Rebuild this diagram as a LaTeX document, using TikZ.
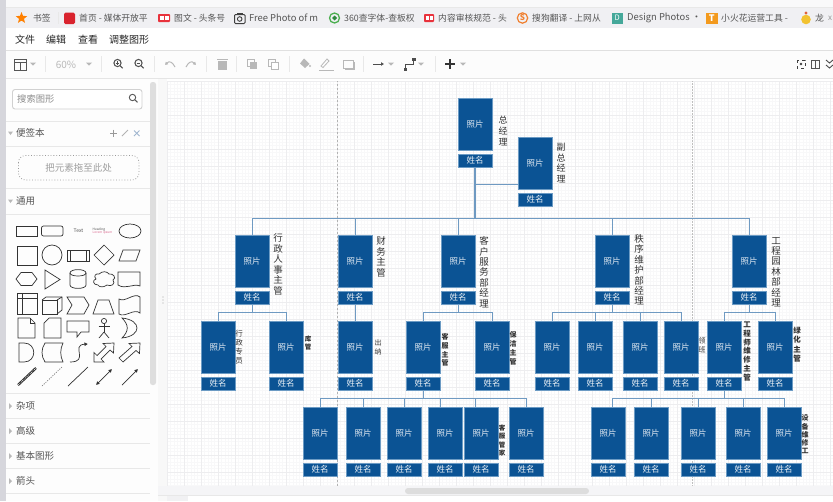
\documentclass[tikz,border=0pt]{standalone}
\usepackage{fontspec}
\setmainfont{Noto Sans CJK SC}
\usetikzlibrary{shapes.geometric,arrows.meta}
\definecolor{navy}{HTML}{0B5394}
\definecolor{edgeb}{HTML}{6C9BC4}
\definecolor{conn}{HTML}{6F9AC2}
\definecolor{lab}{HTML}{333333}
\definecolor{ui}{HTML}{555555}
\definecolor{uilight}{HTML}{B8B8B8}
\definecolor{sep}{HTML}{E8E8E8}
\definecolor{gmaj}{HTML}{EDEDEF}
\definecolor{gmin}{HTML}{F8F8F9}
\definecolor{cA}{HTML}{F0F0F3}
\definecolor{cB}{HTML}{F9F9FA}
\definecolor{cC}{HTML}{FCFCFC}
\definecolor{cD}{HTML}{FDFDFD}
\definecolor{cE}{HTML}{F8F8F8}
\definecolor{cF}{HTML}{F5F5F7}
\definecolor{cG}{HTML}{F1F1F3}
\definecolor{cH}{HTML}{D6D6DC}
\definecolor{cI}{HTML}{DEDEDE}
\definecolor{cJ}{HTML}{DDDDDD}
\definecolor{redA}{HTML}{D9232E}
\definecolor{redB}{HTML}{E8323C}
\definecolor{grA}{HTML}{4CAF50}
\definecolor{grB}{HTML}{2E8B3D}
\definecolor{orgA}{HTML}{F08030}
\definecolor{orgB}{HTML}{F39A1E}
\definecolor{teal2}{HTML}{45A89A}
\definecolor{yel}{HTML}{F2C230}
\definecolor{chick}{HTML}{E0603A}
\definecolor{xblue}{HTML}{9FB6CF}
\tikzset{
 photo/.style={draw=edgeb,fill=navy,line width=.7pt,minimum width=34pt,minimum height=52pt,inner sep=0pt,outer sep=0pt,anchor=north west,text=white!88!navy,font=\fontsize{8.5}{10}\selectfont},
 namebox/.style={draw=edgeb,fill=navy,line width=.7pt,minimum width=34pt,minimum height=13pt,inner sep=0pt,outer sep=0pt,anchor=north west,text=white!92!navy,font=\fontsize{8.5}{10}\selectfont},
 wire/.style={draw=conn,line width=1pt},
 vlab/.style={align=center,inner sep=0pt,text=lab},
 bm/.style={anchor=west,inner sep=0pt,text=ui,font=\fontsize{8.8}{11}\selectfont},
 bmlat/.style={anchor=west,inner sep=0pt,text=ui,font=\fontsize{9.4}{11}\selectfont},
 menu/.style={anchor=west,inner sep=0pt,text=black!85,font=\fontsize{10}{12}\selectfont},
 side/.style={anchor=west,inner sep=0pt,text=ui,font=\fontsize{9.5}{12}\selectfont},
 pal/.style={draw=black!80,line width=.7pt,fill=none},
 tb/.style={draw=ui,line width=.8pt},
 tbl/.style={draw=uilight,line width=.8pt},
 tbsep/.style={draw=sep,line width=.7pt},
}
\newcommand\psn[3]{\node[photo] (#1) at (#2,#3) {照片};\node[namebox] (#1n) at (#2,#3+56) {姓名};}
\newcommand\caret[2]{\fill[uilight] (#1-3,#2-1.5) -- (#1+3,#2-1.5) -- (#1,#2+1.7) -- cycle;}
\newcommand\rtri[2]{\fill[uilight] (#1-1.5,#2-3) -- (#1+1.5,#2) -- (#1-1.5,#2+3) -- cycle;}
\begin{document}
\begin{tikzpicture}[x=1pt,y=-1pt]
\useasboundingbox (0,0) rectangle (833,501);
\fill[white] (0,0) rectangle (833,501);
% canvas grid
\begin{scope}
\clip (167,81) rectangle (833,486);
\foreach \i in {0,...,196} {\draw[gmin,line width=.4pt] (167+\i*3.4,81) -- (167+\i*3.4,486);}
\foreach \i in {0,...,120} {\draw[gmin,line width=.4pt] (167,81+\i*3.4) -- (833,81+\i*3.4);}
\foreach \i in {0,...,39} {\draw[gmaj,line width=.6pt] (167+\i*17,81) -- (167+\i*17,486);}
\foreach \i in {0,...,24} {\draw[gmaj,line width=.6pt] (167,81+\i*17) -- (833,81+\i*17);}
\draw[black!30,line width=.6pt,dash pattern=on 2pt off 2pt] (337,80) -- (337,486);
\draw[black!25,line width=1pt,dash pattern=on 1.5pt off 1.5pt] (692,80) -- (692,486);
\end{scope}
% window chrome
\fill[cA] (0,0) rectangle (833,28);
\fill[cB] (0,0) rectangle (833,7);
\draw[sep] (0,7.5) -- (833,7.5);
\fill[white] (0,28) rectangle (833,50);
\draw[black!12,line width=.8pt] (0,50.5) -- (833,50.5);
\fill[cC] (0,51) rectangle (833,78);
\draw[black!10,line width=1.2pt] (0,78.5) -- (833,78.5);
\fill[cD] (0,79) rectangle (167,501);
\fill[cE] (158,79) rectangle (167,501);
\fill[cF] (158,486) rectangle (833,495);
\draw[sep] (158,495.5) -- (833,495.5);
\fill[cG] (167,496) rectangle (188,501);
\fill[cH] (0,0) rectangle (6,501);
\fill[cI,rounded corners=2.5pt] (150,82) rectangle (156,385);
\fill[cJ,rounded corners=3pt] (405,488) rectangle (589,494);
\foreach \yy in {297,300,303} {\fill[black!35] (163,\yy) circle[radius=.6];}
% bookmark bar
\node[star,star points=5,star point ratio=2.3,fill=orange,minimum size=12pt,inner sep=0pt] (bmstar) at (21.5,18) {};
\node[bm] (bm0) at (33,18) {书签};
\draw[sep] (58,12) -- (58,24);
\fill[redA,rounded corners=1.5pt] (64,12.5) rectangle (75,24);
\node[bm] (bm1) at (79,18) {首页 - 媒体开放平};
\fill[redB,rounded corners=.8pt] (158,14) rectangle (170,22);
\fill[white] (160,16) rectangle (163.5,20);\fill[white] (165,16) rectangle (168.5,20);
\node[bm] (bm2) at (174,18) {图文 - 头条号};
\draw[black!75,line width=1pt,rounded corners=1pt] (234.5,14.5) rectangle (245,23.5);
\draw[black!75,line width=.9pt] (239.7,19) circle[radius=2.3];
\fill[black!75] (237,13) rectangle (242.5,15);
\node[bmlat] (bm3) at (249,18) {Free Photo of m};
\draw[grA,line width=1.3pt] (334.5,18) circle[radius=5];
\fill[grB] (334.5,15.5) -- (337,18) -- (334.5,20.5) -- (332,18) -- cycle;
\node[bm] (bm4) at (344,18) {360查字体-查板权};
\fill[redB,rounded corners=.8pt] (424,14) rectangle (434,22);
\fill[white] (425.5,16) rectangle (428.5,20);\fill[white] (430,16) rectangle (433,20);
\node[bm] (bm5) at (438,18) {内容审核规范 - 头};
\draw[orgA,line width=1.2pt] (522.5,18) circle[radius=5.2];
\node[font=\fontsize{8}{8}\selectfont\bfseries,text=orgA,inner sep=0pt] (bmS) at (522.5,18) {S};
\node[bm] (bm6) at (532,18) {搜狗翻译 - 上网从};
\fill[teal2] (612,13) rectangle (622.5,23.5);
\node[font=\fontsize{7.5}{8}\selectfont,text=white,inner sep=0pt] (bmD) at (617.2,18.2) {D};
\node[bmlat] (bm7) at (627,18) {Design Photos ·};
\fill[orgB] (706,12.5) rectangle (717.5,24);
\node[font=\fontsize{9}{9}\selectfont\bfseries,text=white,inner sep=0pt] (bmT) at (711.7,18.2) {T};
\node[bm] (bm8) at (721,18) {小火花运营工具 -};
\fill[yel] (806,19.5) circle[radius=4.8];
\fill[chick] (806,13) circle[radius=1.6];
\node[bm] (bm9) at (815,18) {龙};
\node[bm,text=black!40,font=\fontsize{8}{8}\selectfont] (bmx) at (828,18) {x};
% menu bar
\node[menu] (m1) at (15,40) {文件};
\node[menu] (m2) at (46,40) {编辑};
\node[menu] (m3) at (78,40) {查看};
\node[menu] (m4) at (109,40) {调整图形};
% toolbar
\draw[tb] (14,59) rectangle (26,70);\draw[tb] (14,62.5) -- (26,62.5);\draw[tb] (20,62.5) -- (20,70);
\caret{33}{64}
\foreach \sx in {45,101,154,206,236,289,363,435} {\draw[tbsep] (\sx,56) -- (\sx,72);}
\node[inner sep=0pt,text=uilight,font=\fontsize{10}{12}\selectfont] (zoomp) at (66,65) {60\%};
\caret{89}{64}
\draw[black!70,line width=1pt] (117.5,63) circle[radius=3.6];\draw[black!70,line width=1.2pt] (120.2,65.8) -- (122.6,68.2);
\draw[black!70,line width=.6pt] (115.6,63) -- (119.4,63);\draw[black!70,line width=.6pt] (117.5,61.1) -- (117.5,64.9);
\draw[black!70,line width=1pt] (138.5,63) circle[radius=3.6];\draw[black!70,line width=1.2pt] (141.2,65.8) -- (143.6,68.2);
\draw[black!70,line width=.6pt] (136.6,63) -- (140.4,63);
\draw[tbl,line width=1pt,-{Latex[length=3pt,width=4pt]}] (175,67) .. controls (172,61) and (169,61) .. (165,65);
\draw[tbl,line width=1pt,-{Latex[length=3pt,width=4pt]}] (186,67) .. controls (189,61) and (192,61) .. (196,65);
\fill[uilight] (218,61) rectangle (227,70);\fill[uilight] (217,58.5) rectangle (228,60);
\draw[tbl] (247.5,59) rectangle (254,66);\fill[uilight] (250,62) rectangle (256.5,68.5);
\draw[tbl] (268.5,59) rectangle (275,66);\draw[tbl,fill=white] (271,62) rectangle (278,69);
\fill[uilight] (304,58.5) -- (309.5,64) -- (305,68) -- (300,63.5) -- cycle;\fill[uilight] (310,66) circle[radius=1.2];
\draw[tbl] (321,66) -- (327,59) -- (329,61) -- (323,67.5) -- cycle;\draw[uilight,line width=1pt] (319,70.5) -- (334,70.5);
\draw[tbl] (343,60) rectangle (353,68);\draw[uilight,line width=1pt] (345,69.5) -- (354.5,69.5) -- (354.5,62);
\draw[black!70,line width=1pt,-{Latex[length=3pt,width=4pt]}] (373,64) -- (384,64);
\caret{391}{64}
\draw[black!70,line width=1pt] (405,69) -- (405,64) -- (413,64) -- (413,59);\fill[black!70] (403.5,67.5) rectangle (406.5,70.5);\fill[black!70] (411.5,57.5) rectangle (416,60.5);
\caret{421}{64}
\draw[black!80,line width=2pt] (445,64) -- (455,64);\draw[black!80,line width=2pt] (450,59) -- (450,69);
\caret{463}{64}
\draw[black!75,line width=1pt,dash pattern=on 3pt off 3pt] (797,60) rectangle (805,68);\fill[black!75] (801,64) circle[radius=1.4];
\draw[tb] (811,60) rectangle (819,68);\draw[tb] (815.5,60) -- (815.5,68);
\draw[black!70,line width=.9pt] (826,60) -- (829.5,63) -- (833,60);\draw[black!70,line width=.9pt] (826,65) -- (829.5,68) -- (833,65);
% sidebar
\draw[black!18,line width=.9pt,rounded corners=2.5pt,fill=white] (12.5,89.5) rectangle (142,109);
\node[side,text=black!45,font=\fontsize{9.3}{11}\selectfont] (srch) at (17,99) {搜索图形};
\draw[black!65,line width=.9pt] (132.5,97.5) circle[radius=3.2];\draw[black!65,line width=1.1pt] (135,100) -- (137.5,102.3);
\draw[sep] (6,121) -- (150,121);
\fill[uilight] (8,131.5) -- (13,131.5) -- (10.5,135) -- cycle;
\node[side] (s0) at (16,133) {便签本};
\draw[black!40,line width=.9pt] (110,133) -- (117,133);\draw[black!40,line width=.9pt] (113.5,129.5) -- (113.5,136.5);
\draw[black!30,line width=.9pt] (122,136) -- (128,130);
\draw[xblue,line width=.9pt] (134,130.5) -- (139.5,136);\draw[xblue,line width=.9pt] (139.5,130.5) -- (134,136);
\draw[sep] (6,146) -- (150,146);
\draw[black!40,line width=.8pt,dotted,rounded corners=7pt] (18.5,155.5) rectangle (139,180);
\node[inner sep=0pt,text=black!38,font=\fontsize{9.5}{12}\selectfont] (s00) at (78.5,168) {把元素拖至此处};
\draw[sep] (6,188.5) -- (150,188.5);
\fill[uilight] (8,199.5) -- (13,199.5) -- (10.5,203) -- cycle;
\node[side] (s1) at (16,201) {通用};
\draw[sep] (6,214) -- (150,214);
\foreach \yy in {393,418,443,468,493} {\draw[sep] (6,\yy) -- (150,\yy);}
\rtri{10.5}{406}\rtri{10.5}{431}\rtri{10.5}{456}\rtri{10.5}{481}
\node[side] (s2) at (16,406) {杂项};
\node[side] (s3) at (16,431) {高级};
\node[side] (s4) at (16,456) {基本图形};
\node[side] (s5) at (16,481) {箭头};
% palette row 1
\draw[pal] (16,226) rectangle (37.5,236);
\draw[pal,rounded corners=2pt] (41.5,226) rectangle (63,236);
\node[inner sep=0pt,font=\fontsize{5}{6}\selectfont,text=ui] (pt1) at (78.5,230.5) {Text};
\node[inner sep=0pt,font=\fontsize{3.2}{3.8}\selectfont,text=ui,align=left] (pt2) at (102.5,231) {Heading\\{\color{purple!60}Lorem ipsum}};
\draw[pal] (130,231) ellipse[x radius=11,y radius=7];
% row 2
\draw[pal] (17,246) rectangle (37,265);
\draw[pal] (52,255) circle[radius=10];
\draw[pal] (67,250) rectangle (89,261);\draw[pal] (70,250) -- (70,261);\draw[pal] (86,250) -- (86,261);
\draw[pal] (104,245) -- (114,255) -- (104,265) -- (94,255) -- cycle;
\draw[pal] (123,250) -- (140,250) -- (136,261) -- (119,261) -- cycle;
% row 3
\draw[pal] (16,279) -- (21,272.5) -- (32,272.5) -- (37,279) -- (32,285.5) -- (21,285.5) -- cycle;
\draw[pal] (45,270) -- (60,279.5) -- (45,289) -- cycle;
\draw[pal] (70,273) .. controls (70,268.5) and (86,268.5) .. (86,273) -- (86,285) .. controls (86,289.5) and (70,289.5) .. (70,285) -- cycle;
\draw[pal] (70,273) .. controls (70,277) and (86,277) .. (86,273);
\draw[pal] (99,274) .. controls (102,271) and (107,271) .. (109,274) .. controls (113,273) and (117,278) .. (113,280) .. controls (116,284) and (111,287) .. (107,285) .. controls (103,288) and (99,287) .. (98,285) .. controls (93,285) and (92,280) .. (96,279) .. controls (93,276) and (96,273) .. (99,274) -- cycle;
\draw[pal] (118,272) -- (140,272) -- (140,286) .. controls (133,283) and (126,290) .. (118,285) -- cycle;
% row 4
\draw[pal] (17,293) rectangle (37,314);\draw[pal] (22,293) -- (22,314);\draw[pal] (17,298) -- (37,298);
\draw[pal] (42,300) -- (57,300) -- (57,314) -- (42,314) -- cycle;\draw[pal] (42,300) -- (46,297) -- (62,297) -- (62,310) -- (57,314);\draw[pal] (57,300) -- (62,297);
\draw[pal] (67,297) -- (84,297) -- (89,305) -- (84,314) -- (67,314) -- (72,305) -- cycle;
\draw[pal] (98,300) -- (109,300) -- (114,314) -- (93,314) -- cycle;
\draw[pal] (119,299) .. controls (125,303) and (134,292) .. (140,297) -- (140,313) .. controls (134,308) and (125,318) .. (119,314) -- cycle;
% row 5
\draw[pal] (18,318) -- (30,318) -- (35,323) -- (35,338) -- (18,338) -- cycle;\draw[pal] (30,318) -- (30,323) -- (35,323);
\draw[pal] (49,318) -- (61,318) -- (61,338) -- (44,338) -- (44,323) -- cycle;
\draw[pal] (67,321) -- (89,321) -- (89,332) -- (81,332) -- (77,337) -- (77,332) -- (67,332) -- cycle;
\draw[pal] (104,321) circle[radius=2.6];\draw[pal] (104,323.6) -- (104,332);\draw[pal] (98.5,326.5) -- (109.5,326.5);\draw[pal] (104,332) -- (99,338);\draw[pal] (104,332) -- (109,338);
\draw[pal] (122,318) .. controls (142,320) and (142,336) .. (122,338) .. controls (129,331) and (129,325) .. (122,318) -- cycle;
% row 6
\draw[pal] (19,343) -- (24,343) .. controls (37,343) and (37,362) .. (24,362) -- (19,362) -- cycle;
\draw[pal] (45,343) -- (63,343) .. controls (60,349) and (60,356) .. (63,362) -- (45,362) .. controls (41,356) and (41,349) .. (45,343) -- cycle;
\draw[pal,-{Latex[length=3.5pt,width=4pt]}] (70,362) .. controls (90,362) and (70,345) .. (88,344);
\draw[pal] (94,362) -- (94,352.5) -- (97,355.5) -- (106,346.5) -- (103,343.5) -- (114,343) -- (113.5,353) -- (110,350) -- (101,359) -- (104,362) -- cycle;
\draw[pal] (119,358) -- (132,346.5) -- (129,343.5) -- (140,343) -- (139.5,353.5) -- (136,350.5) -- (123,362) -- cycle;
% row 7
\draw[black!80,line width=2.4pt] (18,385) -- (36,368);\draw[white,line width=.5pt,dash pattern=on 1pt off 1pt] (18,385) -- (36,368);
\draw[black!55,line width=.6pt,dash pattern=on 1.2pt off 1.2pt] (42,386) -- (62,367);
\draw[pal] (68,386) -- (88,367);
\draw[pal,{Latex[length=3.5pt,width=4pt]}-{Latex[length=3.5pt,width=4pt]}] (96,385) -- (112,369);
\draw[pal,-{Latex[length=3.5pt,width=4pt]}] (122,385) -- (138,369);
% org chart nodes
\psn{gm}{458}{98}
\psn{vp}{518}{137}
\psn{xz}{235}{235}
\psn{cw}{338}{235}
\psn{kh}{441}{235}
\psn{zx}{595}{235}
\psn{gc}{732}{235}
\psn{ca}{201}{321}
\psn{cb}{269}{321}
\psn{cc}{338}{321}
\psn{cd}{406}{321}
\psn{ce}{475}{321}
\psn{cf}{535}{321}
\psn{cg}{578}{321}
\psn{ch}{623}{321}
\psn{ci}{664}{321}
\psn{cj}{707}{321}
\psn{ck}{758}{321}
\psn{da}{303}{407}
\psn{db}{346}{407}
\psn{dc}{387}{407}
\psn{dd}{428}{407}
\psn{de}{464}{407}
\psn{df}{509}{407}
\psn{ea}{591}{407}
\psn{eb}{634}{407}
\psn{ec}{681}{407}
\psn{ed}{726}{407}
\psn{ee}{767}{407}
% connectors
\coordinate (bus0) at (475,218);
\coordinate (jvp) at (475,184);
\draw[wire,line width=1.2pt] (gmn.south) -- (bus0);
\draw[wire] (jvp) -- (vp.west |- jvp);
\foreach \t in {xz,cw,kh,zx,gc} {\draw[wire] (bus0) -| (\t.north);}
\coordinate (bus1) at (252,312);
\draw[wire] (xzn.south) -- (bus1);
\foreach \t in {ca,cb} {\draw[wire] (bus1) -| (\t.north);}
\draw[wire] (cwn.south) -- (cc.north);
\coordinate (bus2) at (458,312);
\draw[wire] (khn.south) -- (bus2);
\foreach \t in {cd,ce} {\draw[wire] (bus2) -| (\t.north);}
\coordinate (bus3) at (612,312);
\draw[wire] (zxn.south) -- (bus3);
\foreach \t in {cf,cg,ch,ci} {\draw[wire] (bus3) -| (\t.north);}
\coordinate (bus4) at (749,312);
\draw[wire] (gcn.south) -- (bus4);
\foreach \t in {cj,ck} {\draw[wire] (bus4) -| (\t.north);}
\coordinate (bus5) at (423,398);
\coordinate (tdd) at (440,407);
\coordinate (tde) at (475,407);
\draw[wire] (cdn.south) -- (bus5);
\foreach \t in {da,db,dc,df} {\draw[wire] (bus5) -| (\t.north);}
\draw[wire] (bus5) -| (tdd);
\draw[wire] (bus5) -| (tde);
\coordinate (bus6) at (724,398);
\coordinate (tea) at (612,407);
\draw[wire] (cjn.south) -- (bus6);
\foreach \t in {eb,ec,ed,ee} {\draw[wire] (bus6) -| (\t.north);}
\draw[wire] (bus6) -| (tea);
% labels
\node[vlab,font=\fontsize{9}{11}\selectfont] (lgm) at (503,130.5) {总\\经\\理};
\node[vlab,font=\fontsize{9}{10.8}\selectfont] (lvp) at (561,163) {副\\总\\经\\理};
\node[vlab,font=\fontsize{9.5}{10.5}\selectfont] (lxz) at (278,264.5) {行\\政\\人\\事\\主\\管};
\node[vlab,font=\fontsize{9.5}{10.5}\selectfont] (lcw) at (381,257) {财\\务\\主\\管};
\node[vlab,font=\fontsize{9.5}{10.4}\selectfont] (lkh) at (484,272) {客\\户\\服\\务\\部\\经\\理};
\node[vlab,font=\fontsize{9.5}{10.4}\selectfont] (lzx) at (639,270) {秩\\序\\维\\护\\部\\经\\理};
\node[vlab,font=\fontsize{9.5}{10.4}\selectfont] (lgc) at (776,272) {工\\程\\园\\林\\部\\经\\理};
\node[vlab,font=\fontsize{7.5}{9}\selectfont] (la) at (239,347.5) {行\\政\\专\\员};
\node[vlab,font=\fontsize{6.5}{8}\selectfont\bfseries] (lb) at (308,343) {库\\管};
\node[vlab,font=\fontsize{7}{9}\selectfont] (lc) at (378,347.5) {出\\纳};
\node[vlab,font=\fontsize{7}{8.8}\selectfont\bfseries] (ld) at (445,350) {客\\服\\主\\管};
\node[vlab,font=\fontsize{7}{9}\selectfont\bfseries] (le) at (513,348.5) {保\\洁\\主\\管};
\node[vlab,font=\fontsize{7}{9}\selectfont] (li) at (702,345.5) {领\\班};
\node[vlab,font=\fontsize{7.5}{8.8}\selectfont\bfseries] (lj) at (747,351.5) {工\\程\\师\\维\\修\\主\\管};
\node[vlab,font=\fontsize{7.5}{9.5}\selectfont\bfseries] (lk) at (797,344.5) {绿\\化\\主\\管};
\node[vlab,font=\fontsize{6.5}{8.4}\selectfont\bfseries] (lm) at (502,440.5) {客\\服\\管\\家};
\node[vlab,font=\fontsize{7}{8.2}\selectfont\bfseries] (ln) at (805,434.5) {设\\备\\维\\修\\工};
\end{tikzpicture}
\end{document}
